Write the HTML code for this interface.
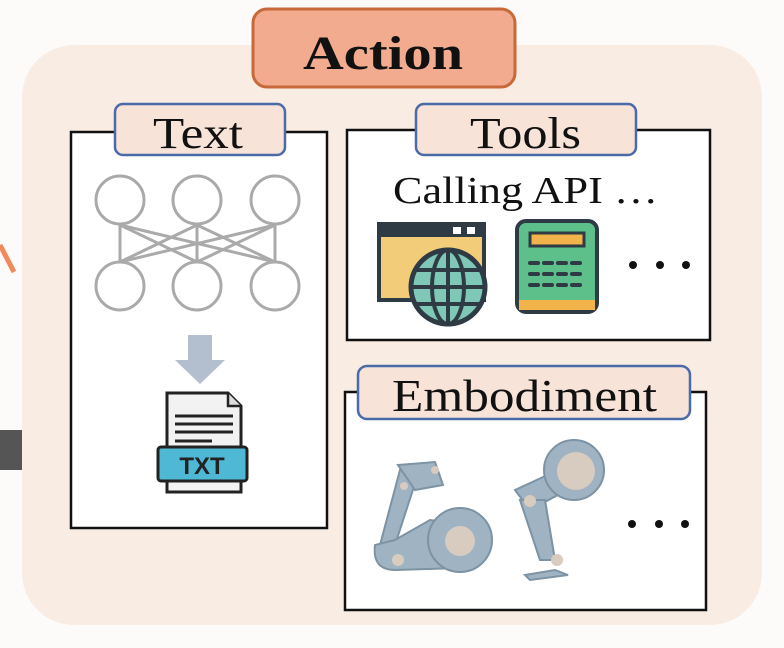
<!DOCTYPE html>
<html><head><style>
html,body{margin:0;padding:0;background:#fdfbfa;}
svg{display:block}
text{font-family:"Liberation Serif",serif;fill:#111}
</style></head><body>
<svg width="784" height="648" viewBox="0 0 784 648" xmlns="http://www.w3.org/2000/svg">
<rect width="784" height="648" fill="#fdfbfa"/>
<line x1="0" y1="245" x2="14" y2="272" stroke="#f08a5a" stroke-width="5"/>
<rect x="0" y="430" width="24" height="40" fill="#555"/>
<rect x="22" y="45" width="740" height="580" rx="52" fill="#f9ece3"/>
<rect x="253" y="9" width="262" height="78" rx="14" fill="#f2ab8e" stroke="#c8693a" stroke-width="3"/>
<text x="303" y="69" font-size="48" font-weight="bold" textLength="160" lengthAdjust="spacingAndGlyphs">Action</text>

<!-- Text box -->
<rect x="71" y="132" width="256" height="396" fill="#fff" stroke="#111" stroke-width="2.5"/>
<rect x="115" y="104" width="170" height="51" rx="8" fill="#f7e3d8" stroke="#4a6aa8" stroke-width="2.5"/>
<text x="153" y="148" font-size="44" textLength="90" lengthAdjust="spacingAndGlyphs">Text</text>
<g stroke="#aaa" stroke-width="3" fill="none">
<line x1="120" y1="225" x2="120" y2="262"/><line x1="197" y1="225" x2="197" y2="262"/><line x1="275" y1="225" x2="275" y2="262"/>
<line x1="120" y1="225" x2="197" y2="262"/><line x1="120" y1="225" x2="275" y2="262"/>
<line x1="197" y1="225" x2="120" y2="262"/><line x1="197" y1="225" x2="275" y2="262"/>
<line x1="275" y1="225" x2="120" y2="262"/><line x1="275" y1="225" x2="197" y2="262"/>
<circle cx="120" cy="200" r="24" fill="#fff"/><circle cx="197" cy="200" r="24" fill="#fff"/><circle cx="275" cy="200" r="24" fill="#fff"/>
<circle cx="120" cy="286" r="24" fill="#fff"/><circle cx="197" cy="286" r="24" fill="#fff"/><circle cx="275" cy="286" r="24" fill="#fff"/>
</g>
<polygon points="188,335 212,335 212,360 225,360 200,384 175,360 188,360" fill="#b3bfcf"/>
<path d="M167,393 H228 L241,406 V492 H167 Z" fill="#f2f2f2" stroke="#222" stroke-width="3"/>
<path d="M228,393 V406 H241" fill="#ddd" stroke="#222" stroke-width="2.5"/>
<g stroke="#222" stroke-width="3"><line x1="175" y1="416" x2="233" y2="416"/><line x1="175" y1="424" x2="233" y2="424"/><line x1="175" y1="432" x2="233" y2="432"/><line x1="175" y1="441" x2="212" y2="441"/></g>
<rect x="158" y="447" width="89" height="34" rx="3" fill="#4fb8d4" stroke="#222" stroke-width="3"/>
<text x="202" y="474" font-size="24" font-weight="bold" text-anchor="middle" style="font-family:'Liberation Sans',sans-serif;fill:#222">TXT</text>

<!-- Tools -->
<rect x="347" y="130" width="363" height="210" fill="#fff" stroke="#111" stroke-width="2.5"/>
<rect x="416" y="104" width="220" height="51" rx="8" fill="#f7e3d8" stroke="#4a6aa8" stroke-width="2.5"/>
<text x="470" y="148" font-size="44" textLength="111" lengthAdjust="spacingAndGlyphs">Tools</text>
<text x="393" y="203" font-size="38" textLength="265" lengthAdjust="spacingAndGlyphs">Calling API …</text>
<rect x="379" y="224" width="105" height="76" fill="#f2cc78" stroke="#2e3a44" stroke-width="4"/>
<rect x="379" y="224" width="105" height="13" fill="#2e3a44"/>
<rect x="453" y="227" width="8" height="7" fill="#fff"/><rect x="467" y="227" width="8" height="7" fill="#fff"/>
<circle cx="448" cy="287" r="37" fill="#7fc8b8" stroke="#2e3a44" stroke-width="5"/>
<g stroke="#2e3a44" stroke-width="4" fill="none">
<ellipse cx="448" cy="287" rx="16" ry="37"/><line x1="448" y1="250" x2="448" y2="324"/>
<line x1="411" y1="287" x2="485" y2="287"/><line x1="416" y1="270" x2="480" y2="270"/><line x1="416" y1="304" x2="480" y2="304"/></g>
<rect x="517" y="221" width="80" height="91" rx="9" fill="#5dc08a" stroke="#2e3a44" stroke-width="4"/>
<rect x="519" y="300" width="76" height="10" fill="#f2b34a"/>
<rect x="530" y="233" width="54" height="13" fill="#f2b34a" stroke="#2e3a44" stroke-width="3"/>
<g stroke="#2e3a44" stroke-width="4" stroke-linecap="round"><line x1="530" y1="263" x2="584" y2="263" stroke-dasharray="8,6"/><line x1="530" y1="274" x2="584" y2="274" stroke-dasharray="8,6"/><line x1="530" y1="285" x2="584" y2="285" stroke-dasharray="8,6"/></g>
<g fill="#111"><circle cx="633" cy="265" r="4"/><circle cx="660" cy="265" r="4"/><circle cx="686" cy="265" r="4"/></g>

<!-- Embodiment -->
<rect x="345" y="392" width="361" height="218" fill="#fff" stroke="#111" stroke-width="2.5"/>
<rect x="358" y="366" width="332" height="53" rx="9" fill="#f7e3d8" stroke="#4a6aa8" stroke-width="2.5"/>
<text x="392" y="411" font-size="46" textLength="265" lengthAdjust="spacingAndGlyphs">Embodiment</text>
<g fill="#9fb3c2" stroke="#7d93a4" stroke-width="2">
<path d="M400,470 L420,468 L395,545 L380,545 Z"/>
<path d="M375,545 Q372,570 395,570 L460,568 L470,525 L430,520 L395,540 Z"/>
<circle cx="460" cy="540" r="32"/>
<path d="M398,465 L435,462 L443,485 L415,490 Z"/>
<path d="M515,490 L580,460 L595,475 L530,510 Z"/>
<circle cx="574" cy="470" r="30"/>
<path d="M520,500 L545,500 L555,560 L540,560 Z"/>
<path d="M525,575 L555,570 L568,575 L530,580 Z"/>
</g>
<g fill="#d8cbbf"><circle cx="460" cy="541" r="15"/><circle cx="576" cy="471" r="19"/><circle cx="398" cy="560" r="6"/><circle cx="530" cy="501" r="6"/><circle cx="557" cy="560" r="6"/><circle cx="435" cy="470" r="4"/><circle cx="404" cy="486" r="4"/></g>
<g fill="#111"><circle cx="632" cy="524" r="4"/><circle cx="659" cy="524" r="4"/><circle cx="685" cy="524" r="4"/></g>
</svg>
</body></html>
